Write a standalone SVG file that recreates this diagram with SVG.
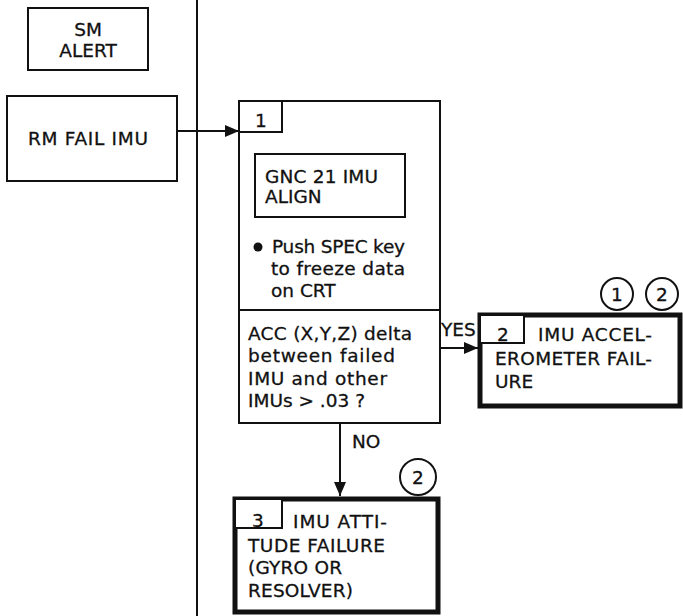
<svg xmlns="http://www.w3.org/2000/svg" width="683" height="616" viewBox="0 0 683 616">
<style>
text{font-family:"DejaVu Sans","Liberation Sans",sans-serif;font-size:18.5px;fill:#111;stroke:#111;stroke-width:0.3}
.thin{fill:#fff;stroke:#111;stroke-width:2}
.thick{fill:#fff;stroke:#111;stroke-width:5}
.ln{fill:none;stroke:#111;stroke-width:2}
.c{text-anchor:middle}
</style>
<defs>
<marker id="ah" markerWidth="14" markerHeight="12" refX="14" refY="6" orient="auto" markerUnits="userSpaceOnUse">
<path d="M0,0 L14,6 L0,12 Z" fill="#111"/>
</marker>
</defs>
<rect width="683" height="616" fill="#fff"/>
<line x1="197" y1="0" x2="197" y2="616" class="ln"/>
<g id="sm-alert">
<rect x="28" y="8" width="120" height="62" class="thin"/>
<text x="88" y="36" class="c">SM</text>
<text x="88" y="57" class="c">ALERT</text>
</g>
<g id="rm-fail-imu">
<rect x="7" y="96" width="170" height="85" class="thin"/>
<text x="28" y="145" textLength="120">RM FAIL IMU</text>
</g>
<g id="step1">
<rect x="239" y="101" width="201" height="322" class="thin"/>
<line x1="239" y1="310" x2="440" y2="310" class="ln"/>
<rect x="239" y="101" width="43" height="31" class="thin"/>
<text x="261" y="127" class="c">1</text>
<rect x="255" y="154" width="150" height="63" class="thin"/>
<text x="265" y="183" textLength="113">GNC 21 IMU</text>
<text x="265" y="203">ALIGN</text>
<circle cx="258" cy="247" r="4.5" fill="#111"/>
<text x="272" y="253" textLength="133">Push SPEC key</text>
<text x="271" y="275" textLength="134">to freeze data</text>
<text x="271" y="297">on CRT</text>
<text x="248" y="340" textLength="164">ACC (X,Y,Z) delta</text>
<text x="248" y="362" textLength="147">between failed</text>
<text x="248" y="385" textLength="139">IMU and other</text>
<text x="248" y="407" textLength="117">IMUs &gt; .03 ?</text>
</g>
<g id="step2">
<rect x="480" y="315" width="200" height="91" class="thick"/>
<rect x="480" y="315" width="44" height="28" class="thin"/>
<text x="503" y="341" class="c">2</text>
<text x="538" y="341" textLength="114">IMU ACCEL-</text>
<text x="495" y="365" textLength="157">EROMETER FAIL-</text>
<text x="495" y="388">URE</text>
<circle cx="617" cy="294" r="16" class="thin"/>
<text x="617" y="301" class="c">1</text>
<circle cx="662" cy="294" r="16" class="thin"/>
<text x="662" y="301" class="c">2</text>
</g>
<g id="step3">
<rect x="235" y="499" width="203" height="113" class="thick"/>
<rect x="235" y="499" width="47" height="29" class="thin"/>
<text x="258" y="527" class="c">3</text>
<text x="293" y="528" textLength="94">IMU ATTI-</text>
<text x="248" y="552" textLength="137">TUDE FAILURE</text>
<text x="248" y="574" textLength="94">(GYRO OR</text>
<text x="248" y="597" textLength="105">RESOLVER)</text>
<circle cx="418" cy="477" r="18" class="thin"/>
<text x="418" y="484" class="c">2</text>
</g>
<g id="connectors">
<line x1="177" y1="131" x2="239" y2="131" class="ln" marker-end="url(#ah)"/>
<line x1="440" y1="348" x2="478" y2="348" class="ln" marker-end="url(#ah)"/>
<text x="441" y="336">YES</text>
<line x1="340" y1="423" x2="340" y2="496" class="ln" marker-end="url(#ah)"/>
<text x="352" y="448">NO</text>
</g>
</svg>
